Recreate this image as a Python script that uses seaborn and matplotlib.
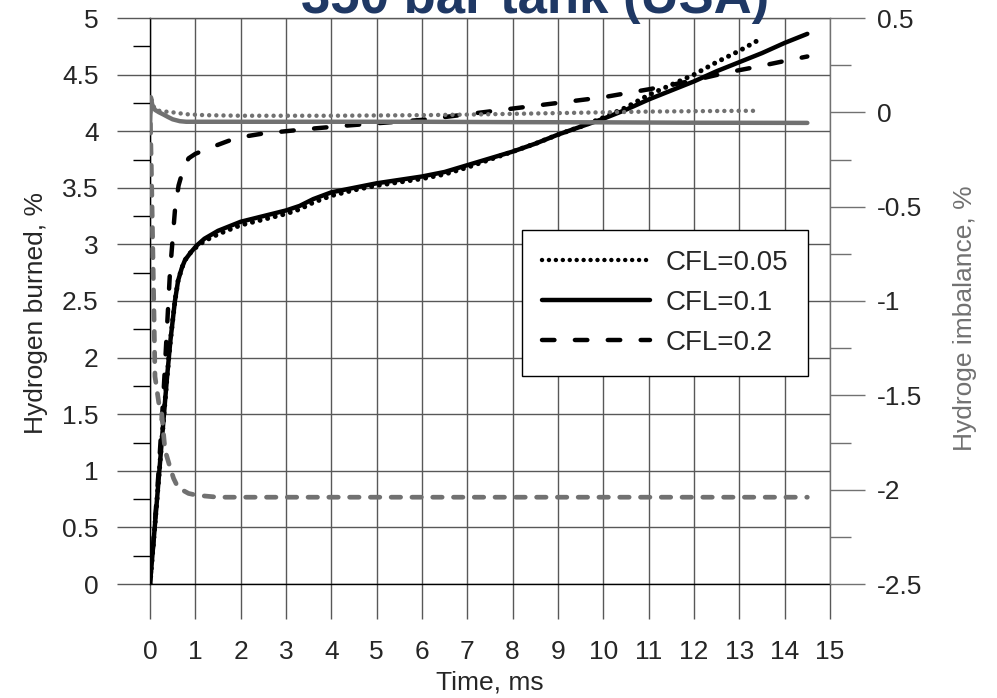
import matplotlib
matplotlib.use("Agg")
import matplotlib.pyplot as plt
import seaborn as sns
from matplotlib.ticker import MultipleLocator
from matplotlib.lines import Line2D

# ---- data ----
# hydrogen burned, % (left axis)
t_cfl01 = [0, 0.1, 0.2, 0.3, 0.37, 0.45, 0.55, 0.62, 0.7, 0.77, 0.9, 1.03, 1.2, 1.5, 2.0,
           2.5, 3.0, 3.3, 3.6, 4.0, 4.5, 5, 5.5, 6, 6.5, 7, 7.5, 8, 8.5, 9, 9.5, 10,
           10.5, 11, 11.5, 12, 12.5, 13, 13.5, 14, 14.5]
burn_cfl01 = [0, 0.48, 0.97, 1.46, 1.8, 2.15, 2.5, 2.68, 2.79, 2.86, 2.93, 2.99, 3.05, 3.12, 3.2,
              3.25, 3.3, 3.34, 3.4, 3.46, 3.5, 3.54, 3.57, 3.6, 3.64, 3.7, 3.76, 3.82, 3.89, 3.97, 4.04, 4.11,
              4.19, 4.28, 4.36, 4.44, 4.53, 4.61, 4.69, 4.78, 4.86]

t_cfl005 = [0, 0.1, 0.2, 0.3, 0.37, 0.45, 0.55, 0.62, 0.7, 0.77, 0.9, 1.03, 1.2, 1.5, 2.0,
            2.5, 3.0, 3.3, 3.6, 4.0, 4.5, 5, 5.5, 6, 6.5, 7, 7.5, 8, 8.5, 9, 9.5, 10,
            10.5, 11, 11.5, 12, 12.5, 13, 13.4]
burn_cfl005 = [0, 0.48, 0.97, 1.46, 1.8, 2.15, 2.5, 2.68, 2.79, 2.86, 2.93, 2.98, 3.03, 3.09, 3.17,
               3.22, 3.27, 3.31, 3.37, 3.43, 3.48, 3.52, 3.55, 3.58, 3.62, 3.68, 3.75, 3.82, 3.89, 3.97, 4.04, 4.12,
               4.21, 4.32, 4.41, 4.5, 4.61, 4.71, 4.8]

t_cfl02 = [0, 0.1, 0.2, 0.3, 0.38, 0.44, 0.5, 0.55, 0.63, 0.73, 0.85, 1.0, 1.24, 1.5, 1.9,
           2.5, 3.0, 3.5, 4.35, 5, 6, 7, 8, 9, 10, 11, 11.4, 12, 12.75, 13.4, 14, 14.5]
burn_cfl02 = [0, 0.5, 1.05, 1.7, 2.3, 2.75, 3.05, 3.3, 3.52, 3.66, 3.76, 3.8, 3.84, 3.88, 3.94,
              3.98, 4.0, 4.02, 4.05, 4.07, 4.1, 4.15, 4.2, 4.25, 4.3, 4.37, 4.4, 4.45, 4.52, 4.57, 4.62, 4.66]

# hydrogen imbalance, % (right axis)
t_imb005 = [0, 0.03, 0.08, 0.15, 0.3, 0.5, 0.8, 1.2, 2, 4, 6, 7, 8, 9, 10, 11, 12, 13, 13.4]
imb_cfl005 = [0.0, 0.07, 0.03, 0.01, 0.005, 0.0, -0.01, -0.015, -0.018, -0.018, -0.015, -0.012,
              -0.008, -0.004, 0.0, 0.004, 0.006, 0.008, 0.008]

t_imb01 = [0, 0.02, 0.05, 0.11, 0.2, 0.3, 0.4, 0.5, 0.66, 0.8, 1.0, 2, 4, 6, 8, 10, 12, 14.5]
imb_cfl01 = [-0.08, 0.08, 0.04, 0.013, 0.0, -0.012, -0.025, -0.037, -0.047, -0.05, -0.05, -0.05,
             -0.05, -0.05, -0.052, -0.053, -0.055, -0.056]

t_imb02 = [0, 0.03, 0.06, 0.09, 0.11, 0.2, 0.26, 0.33, 0.44, 0.52, 0.6, 0.7, 0.85, 1.04, 1.5,
           2, 4, 6, 8, 10, 12, 14.5]
imb_cfl02 = [0.05, -0.3, -0.7, -1.1, -1.4, -1.55, -1.6, -1.79, -1.88, -1.94, -1.98, -2.0, -2.02,
             -2.03, -2.04, -2.04, -2.04, -2.04, -2.04, -2.04, -2.04, -2.04]

labels = ["CFL=0.05", "CFL=0.1", "CFL=0.2"]
title = "350 bar tank (USA)"

sns.set_style("white")
plt.rcParams['font.family'] = ['Liberation Sans', 'DejaVu Sans']
plt.rcParams['font.size'] = 19

grid_c = '#585858'
gray = '#717171'
dotted = (0, (0.01, 1.55))
dashed = (0, (2.8, 4.6))

fig = plt.figure(figsize=(9.97, 6.98), dpi=100)
ax = fig.add_axes([150 / 997, 1 - 584 / 698, 680 / 997, 566 / 698])
ax2 = ax.twinx()

# black lines, left axis
sns.lineplot(x=t_cfl005, y=burn_cfl005, ax=ax, color='black', lw=3.6, estimator=None,
             linestyle=dotted, dash_capstyle='round')
sns.lineplot(x=t_cfl01, y=burn_cfl01, ax=ax, color='black', lw=3.2, estimator=None,
             solid_capstyle='round')
sns.lineplot(x=t_cfl02, y=burn_cfl02, ax=ax, color='black', lw=3.2, estimator=None,
             linestyle=dashed, dash_capstyle='round')

# gray lines, right axis
sns.lineplot(x=t_imb005, y=imb_cfl005, ax=ax2, color=gray, lw=3.2, estimator=None,
             linestyle=(0, (0.01, 1.6)), dash_capstyle='round')
sns.lineplot(x=t_imb01, y=imb_cfl01, ax=ax2, color=gray, lw=3.2, estimator=None,
             solid_capstyle='round')
sns.lineplot(x=t_imb02, y=imb_cfl02, ax=ax2, color=gray, lw=3.4, estimator=None,
             linestyle=(0, (2.0, 2.4)), dash_capstyle='round')

ax.set_xlim(0, 15)
ax.set_ylim(0, 5)
ax.set_xticks(range(0, 16))
ax.set_yticks([0, 0.5, 1, 1.5, 2, 2.5, 3, 3.5, 4, 4.5, 5])
ax.set_yticklabels(['0', '0.5', '1', '1.5', '2', '2.5', '3', '3.5', '4', '4.5', '5'])
ax.yaxis.set_minor_locator(MultipleLocator(0.25))
ax.grid(True, which='major', color=grid_c, lw=1)
ax.set_axisbelow(True)
ax.tick_params(axis='x', which='major', direction='out', length=25, width=1, color=grid_c,
               pad=15, labelsize=19, bottom=True)
ax.tick_params(axis='y', which='major', direction='out', length=24, width=1, color=grid_c,
               pad=13, labelsize=19, left=True)
ax.tick_params(axis='y', which='minor', direction='out', length=12, width=1, color='black', left=True)

ax2.set_ylim(-2.5, 0.5)
ax2.set_yticks([-2.5, -2, -1.5, -1, -0.5, 0, 0.5])
ax2.set_yticklabels(['-2.5', '-2', '-1.5', '-1', '-0.5', '0', '0.5'])
ax2.yaxis.set_minor_locator(MultipleLocator(0.25))
ax2.tick_params(axis='y', which='major', direction='out', length=25, width=1, color=gray,
                pad=9, labelsize=19, right=True)
ax2.tick_params(axis='y', which='minor', direction='out', length=15, width=1, color=gray, right=True)

for name, sp in ax.spines.items():
    sp.set_linewidth(1)
ax.spines['left'].set_color('black')
ax.spines['bottom'].set_color('black')
ax.spines['top'].set_color(grid_c)
ax.spines['right'].set_visible(False)
for name in ['left', 'bottom', 'top']:
    ax2.spines[name].set_visible(False)
ax2.spines['right'].set_color(gray)
ax2.spines['right'].set_linewidth(1)

ax.set_xlabel("Time, ms", fontsize=19)
ax.xaxis.set_label_coords(0.5, -0.152)
ax.set_ylabel("Hydrogen burned, %", fontsize=19)
ax.yaxis.set_label_coords(-0.15, 0.478)
ax2.set_ylabel("Hydroge imbalance, %", fontsize=19, color=gray)
ax2.yaxis.set_label_coords(1.181, 0.47)

handles = [Line2D([], [], color='black', lw=3.2, linestyle=dotted, dash_capstyle='round'),
           Line2D([], [], color='black', lw=3.2),
           Line2D([], [], color='black', lw=3.2, linestyle=dashed, dash_capstyle='round')]
leg = ax2.legend(handles, labels, loc='upper left', bbox_to_anchor=(522 / 997, 1 - 230 / 698),
                 bbox_transform=fig.transFigure, borderaxespad=0, fontsize=20,
                 handlelength=3.9, handletextpad=0.55, labelspacing=0.5, borderpad=0.72,
                 fancybox=False, framealpha=1, edgecolor='black')
leg.get_frame().set_linewidth(1)

# title sits mostly above the top edge, as in the cropped original
fig.text(0.537, 1 - 13 / 698, title, ha='center', va='baseline', fontsize=38,
         fontweight='bold', color='#1F3864')

fig.savefig("out.png", dpi=100)
